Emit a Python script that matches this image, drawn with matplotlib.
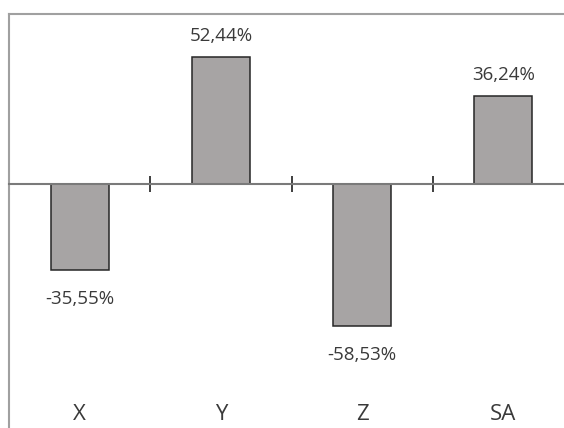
import matplotlib
matplotlib.use("Agg")
import matplotlib.pyplot as plt

categories = ["X", "Y", "Z", "SA"]
values = [-35.55, 52.44, -58.53, 36.24]
value_labels = ["-35,55%", "52,44%", "-58,53%", "36,24%"]

plt.rcParams["font.family"] = ["Open Sans", "DejaVu Sans"]

W, H = 564, 428
fig = plt.figure(figsize=(W / 100, H / 100), dpi=100)
fig.patch.set_facecolor("white")

# plot area: left/top frame visible, the rest runs past the figure edge
left_px, right_px, top_px, bottom_px = 9, 574, 14, 440
ax = fig.add_axes([left_px / W, 1 - bottom_px / H,
                   (right_px - left_px) / W, (bottom_px - top_px) / H])

x = list(range(len(categories)))
ax.bar(x, values, width=0.41, color="#a7a4a4", edgecolor="#262626",
       linewidth=1.1, zorder=3)

ax.set_xlim(-0.5, len(categories) - 0.5)
ax.set_ylim(-105.3, 70)

# frame
ax.spines["right"].set_visible(False)
for side in ("left", "top"):
    ax.spines[side].set_color("#a0a0a0")
    ax.spines[side].set_linewidth(1.5)

# category axis crossing at zero
ax.spines["bottom"].set_position(("data", 0))
ax.spines["bottom"].set_color("#7a7a7a")
ax.spines["bottom"].set_linewidth(1.5)
ax.spines["bottom"].set_zorder(4)
ax.set_xticks([0.5, 1.5, 2.5])
ax.set_xticklabels([])
ax.tick_params(axis="x", direction="inout", length=12, width=1.3,
               color="#303030")
ax.set_yticks([])

# data labels
for xi, v, lab in zip(x, values, value_labels):
    off = 21 if v >= 0 else -29
    ax.annotate(lab, xy=(xi, v), xytext=(0, off * 0.72),
                textcoords="offset points", ha="center", va="center",
                fontsize=13.5, color="#3a3a3a", zorder=5)

# category labels at the bottom of the plot area
for xi, c in zip(x, categories):
    ax.text(xi, -94.7, c, ha="center", va="center", fontsize=16,
            color="#3a3a3a")

fig.savefig("out.png", dpi=100, facecolor="white")
